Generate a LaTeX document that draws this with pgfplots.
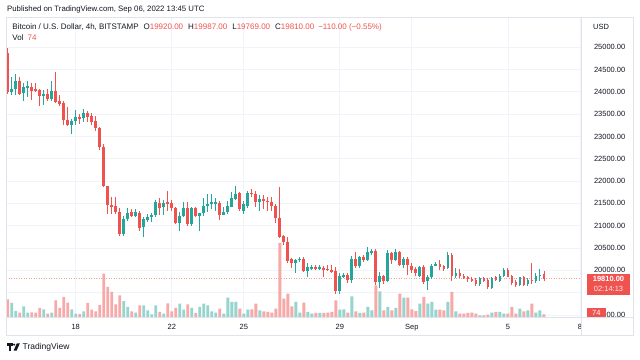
\documentclass[border=0pt]{standalone}
\usepackage{pgfplots}
\pgfplotsset{compat=1.18}
\usepackage{pgfplotstable}
\usepackage{fontspec}
\setmainfont{Liberation Sans}
\definecolor{upc}{HTML}{26A69A}
\definecolor{dnc}{HTML}{EF5350}
\definecolor{vup}{HTML}{96D4CE}
\definecolor{vdn}{HTML}{F7A9A7}
\definecolor{gridc}{HTML}{F0F3FA}
\definecolor{framec}{HTML}{E0E3EB}
\definecolor{txt}{HTML}{131722}
\definecolor{dotc}{HTML}{F4A09E}

% 4h candles, i = 0 is Aug 15 04:00 UTC
\pgfplotstableread{
i o h l c v
1 23990 24335 23925 24070 384
2 24060 24400 23920 24240 164
4 23980 24210 23790 24110 293
5 24095 24245 23885 24125 118
9 23900 24050 23700 23945 211
11 23850 24240 23790 24020 118
16 23265 23400 23050 23340 211
17 23340 23600 23260 23435 90
19 23410 23620 23330 23535 156
29 20815 21210 20780 21145 438
30 21145 21390 21100 21290 274
32 21220 21370 21200 21300 118
34 20960 21200 20755 21145 321
35 21130 21260 21090 21205 184
36 21205 21280 21090 21240 74
37 21240 21580 21200 21540 321
39 21410 21580 21250 21500 90
43 21065 21315 20890 21225 364
44 21225 21540 21190 21390 200
46 21030 21420 21000 21390 247
48 21215 21290 20880 21280 274
49 21280 21610 21220 21440 364
50 21450 21700 21300 21480 321
51 21490 21700 21375 21530 156
52 21500 21620 21320 21540 118
54 21245 21420 21230 21315 90
55 21300 21560 21260 21440 529
56 21430 21750 21410 21620 411
57 21600 21890 21575 21705 411
59 21335 21550 21270 21480 90
60 21440 21770 21400 21740 200
63 21540 21680 21340 21600 184
72 20170 20260 19930 20230 411
73 20230 20300 20180 20260 118
75 19980 20160 19860 20070 137
76 20040 20110 20000 20070 90
78 20040 20120 20000 20070 110
83 19545 19940 19470 19870 200
84 19860 19950 19830 19895 211
86 19785 20310 19720 20245 567
88 20090 20330 20050 20290 110
90 20240 20530 20210 20420 274
91 20400 20480 20350 20440 184
93 19740 19960 19600 19870 704
95 19760 20450 19740 20390 274
97 20240 20480 20200 20410 247
99 20130 20300 20050 20260 529
103 19870 20100 19850 20065 364
105 19755 19900 19560 19860 364
106 19860 20150 19810 20105 411
107 20105 20190 20090 20135 200
110 20045 20415 20025 20345 411
112 19880 20050 19830 19935 156
118 19690 19860 19650 19835 47
121 19600 19860 19570 19835 118
123 19770 19910 19740 19880 137
124 19880 20060 19850 20010 90
128 19670 19860 19640 19840 227
130 19690 19830 19640 19780 184
132 19770 19950 19720 19880 118
133 19875 20020 19760 19900 184
}\uptab

\pgfplotstableread{
i o h l c v
0 24870 24985 23960 24000 485
3 24240 24330 23920 23960 118
6 24100 24190 23810 24025 129
7 24065 24190 24000 24035 118
8 24050 24070 23680 23900 247
10 23960 24070 23790 23850 90
12 24010 24445 23750 23775 458
13 23790 23920 23680 23730 247
14 23750 23800 23250 23360 548
15 23375 23650 23240 23265 392
18 23435 23500 23280 23400 82
20 23535 23580 23330 23440 384
21 23460 23520 23260 23325 200
22 23350 23450 23120 23190 156
23 23190 23220 22700 22760 329
24 22760 22825 21860 21900 1186
25 21900 21900 21260 21465 822
26 21465 21650 21255 21430 685
27 21440 21640 21270 21315 348
28 21315 21390 20775 20815 595
31 21300 21380 21200 21220 156
33 21290 21340 20880 20940 321
38 21520 21610 21250 21400 137
40 21520 21780 21335 21500 375
41 21515 21585 21330 21390 156
42 21400 21430 21040 21065 247
45 21390 21540 21000 21030 348
47 21390 21420 21200 21215 110
53 21520 21545 21130 21240 227
58 21730 21760 21340 21370 227
61 21740 21820 21640 21710 211
62 21710 21785 21430 21540 364
64 21600 21690 21380 21560 156
65 21560 21640 21330 21530 137
66 21540 21640 21330 21440 118
67 21440 21490 21070 21165 227
68 21180 21860 20730 20755 2028
69 20775 20800 20570 20640 501
70 20640 20755 20160 20215 638
71 20245 20270 20050 20170 293
74 20250 20300 19960 19975 392
77 20070 20110 20010 20040 110
79 20060 20100 19845 20020 110
80 20040 20130 19990 20010 118
81 20010 20110 19940 19975 137
82 19975 20080 19470 19545 458
85 19895 19940 19720 19785 118
87 20245 20420 20050 20090 156
89 20290 20340 20180 20240 118
92 20440 20470 19660 19740 869
94 19870 19900 19700 19760 184
96 20390 20420 20140 20240 184
98 20410 20440 20100 20130 638
100 20260 20300 19895 20120 529
101 20090 20160 19950 20000 211
102 20020 20080 19880 19935 164
104 20080 20120 19700 19745 548
108 20135 20230 20000 20070 200
109 20095 20130 19980 20020 184
111 20345 20380 19760 19880 685
113 19935 20020 19830 19875 90
114 19880 19910 19800 19830 90
115 19845 19880 19740 19810 110
116 19810 19845 19740 19770 118
117 19780 19830 19650 19690 90
119 19835 19860 19740 19770 47
120 19780 19830 19570 19620 63
122 19860 19880 19760 19790 137
125 20005 20060 19840 19860 90
126 19870 19900 19680 19725 274
127 19745 19790 19620 19670 90
129 19840 19880 19640 19670 156
131 19790 20155 19690 19760 364
134 19920 19987 19769 19810 74
}\dntab

\pgfplotsset{
  paneaxis/.style={at={(6pt,42pt)}, anchor=south west, scale only axis,
    width=575pt, height=300pt, xmin=-0.4248, xmax=143.26},
  candle/.style n args={2}{draw=none, mark=none, forget plot,
    error bars/.cd, y dir=both, y explicit, error mark=none,
    error bar style={draw=#1, line width=#2, solid}},
}

\begin{document}
\begin{tikzpicture}[x=1pt,y=1pt]
\fill[white] (0,0) rectangle (640,359);
\useasboundingbox (0,0) rectangle (640,359);

% grid and scales
\begin{axis}[paneaxis, ymin=18953, ymax=25679,
  axis line style={draw=none}, major tick length=0pt,
  xtick={17,41,59,83,101,125,143}, xticklabels={18,22,25,29,Sep,5,8},
  ytick={19000,19500,...,25000},
  yticklabel pos=right,
  grid=major, grid style={gridc, line width=0.8pt},
  tick label style={font=\fontsize{7.5}{9}\selectfont, text=txt},
  /pgf/number format/assume math mode=true,
  yticklabel style={/pgf/number format/.cd, fixed, fixed zerofill, precision=2, 1000 sep={}, /tikz/.cd, xshift=9.5pt},
  xticklabel style={yshift=-4pt},
  scaled y ticks=false]
\addplot[draw=none] coordinates {(0,20000)};
\end{axis}

% volume
\begin{axis}[paneaxis, ymin=0, ymax=8220, hide axis]
\addplot[ybar, bar width=2.9pt, bar shift=0pt, fill=vup, draw=none] table[x=i, y=v] {\uptab};
\addplot[ybar, bar width=2.9pt, bar shift=0pt, fill=vdn, draw=none] table[x=i, y=v] {\dntab};
\end{axis}

% candles
\begin{axis}[paneaxis, ymin=18953, ymax=25679, hide axis]
\addplot[dotc, line width=0.8pt, dash pattern=on 1pt off 1.5pt] coordinates {(-1,19810) (145,19810)};
\addplot[candle={upc}{0.9pt}]
  table[x=i, y expr={(\thisrow{h}+\thisrow{l})/2}, y error expr={(\thisrow{h}-\thisrow{l})/2}] {\uptab};
\addplot[candle={dnc}{0.9pt}]
  table[x=i, y expr={(\thisrow{h}+\thisrow{l})/2}, y error expr={(\thisrow{h}-\thisrow{l})/2}] {\dntab};
\addplot[candle={upc}{2.8pt}]
  table[x=i, y expr={(\thisrow{o}+\thisrow{c})/2}, y error expr={max(abs(\thisrow{c}-\thisrow{o})/2,12)}] {\uptab};
\addplot[candle={dnc}{2.8pt}]
  table[x=i, y expr={(\thisrow{o}+\thisrow{c})/2}, y error expr={max(abs(\thisrow{c}-\thisrow{o})/2,12)}] {\dntab};
\end{axis}

% frame
\draw[framec, line width=0.8pt] (6,24) rectangle (633,342);
\draw[framec, line width=0.8pt] (581,24) -- (581,342);
\draw[framec, line width=0.8pt] (6,42) -- (633,42);

% texts
\begingroup
\fontsize{7.5}{9}\selectfont
\node[anchor=base west, inner sep=0, text=txt, font=\fontsize{7.8}{9}\selectfont] at (7,347.3) {Published on TradingView.com, Sep 06, 2022 13:45 UTC};
\node[anchor=base west, inner sep=0, text=txt, font=\fontsize{8}{9}\selectfont] at (12.3,329) {Bitcoin / U.S. Dollar, 4h, BITSTAMP\hspace{5pt}O\textcolor{dnc}{19920.00}\hspace{5pt}H\textcolor{dnc}{19987.00}\hspace{5pt}L\textcolor{dnc}{19769.00}\hspace{5pt}C\textcolor{dnc}{19810.00}\hspace{4pt}\textcolor{dnc}{−110.00 (−0.55\%)}};
\node[anchor=base west, inner sep=0, text=txt, font=\fontsize{8}{9}\selectfont] at (12.3,318) {Vol\hspace{4pt}\textcolor{dnc}{74}};
\node[anchor=west, inner sep=0, text=txt] at (593,332) {USD};
\fill[dnc] (587,64) rectangle (630,85);
\node[text=white, inner sep=0] at (608.5,79.7) {\bfseries 19810.00};
\node[text=white, text opacity=0.85, inner sep=0] at (608.5,70.0) {02:14:13};
\fill[dnc] (587,42.3) rectangle (605.7,50.7);
\node[text=white, inner sep=0] at (596.3,46.5) {74};
\endgroup

% logo
\fill[txt] (7,15.6) rectangle (12.8,13.3);
\fill[txt] (9.3,13.3) rectangle (11.4,8.4);
\fill[txt] (14.2,14.4) circle (1.15);
\fill[txt] (16.8,15.6) -- (19.8,15.6) -- (16.6,8.4) -- (13.6,8.4) -- cycle;
\node[anchor=west, inner sep=0, text=txt, font=\fontsize{8.5}{10}\selectfont] at (22.5,12) {TradingView};
\end{tikzpicture}
\end{document}
